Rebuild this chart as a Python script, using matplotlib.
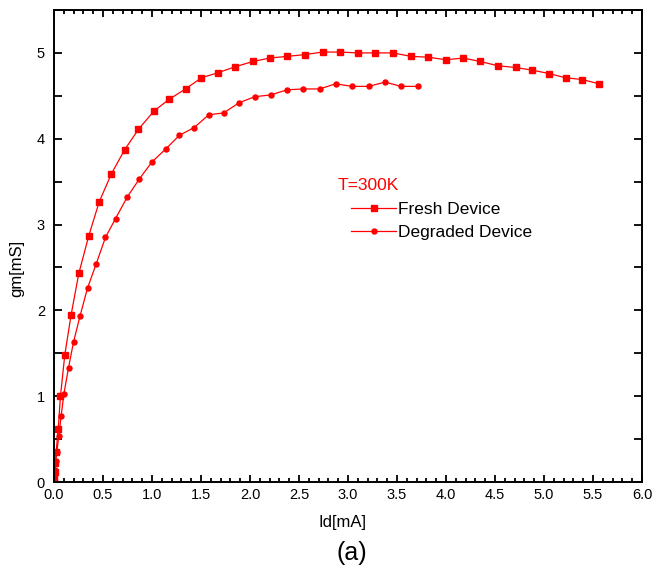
import matplotlib.pyplot as plt
from matplotlib.ticker import MultipleLocator

plt.rcParams['font.family'] = ['Liberation Sans', 'DejaVu Sans']

# Id [mA] and gm [mS]
fresh_id = [0.0, 0.004, 0.008, 0.014, 0.022, 0.043, 0.066, 0.11, 0.175, 0.253,
            0.355, 0.46, 0.585, 0.72, 0.862, 1.018, 1.175, 1.342, 1.505, 1.675,
            1.852, 2.03, 2.20, 2.38, 2.56, 2.74, 2.92, 3.10, 3.28, 3.46,
            3.64, 3.82, 4.00, 4.175, 4.35, 4.53, 4.71, 4.875, 5.05, 5.22,
            5.39, 5.56]
fresh_gm = [0.0, 0.05, 0.12, 0.22, 0.35, 0.62, 1.00, 1.48, 1.95, 2.43,
            2.87, 3.26, 3.59, 3.87, 4.11, 4.32, 4.46, 4.58, 4.71, 4.77,
            4.84, 4.90, 4.94, 4.96, 4.98, 5.01, 5.01, 5.00, 5.00, 5.00,
            4.96, 4.95, 4.92, 4.94, 4.90, 4.85, 4.83, 4.80, 4.76, 4.71,
            4.69, 4.64]

degr_id = [0.0, 0.004, 0.009, 0.017, 0.029, 0.049, 0.073, 0.10, 0.148, 0.199,
           0.267, 0.342, 0.43, 0.525, 0.628, 0.747, 0.87, 1.0, 1.14, 1.28,
           1.43, 1.58, 1.73, 1.89, 2.05, 2.21, 2.38, 2.54, 2.71, 2.875,
           3.04, 3.21, 3.38, 3.54, 3.71]
degr_gm = [0.0, 0.06, 0.14, 0.24, 0.35, 0.535, 0.77, 1.02, 1.33, 1.63,
           1.94, 2.26, 2.54, 2.85, 3.07, 3.32, 3.53, 3.73, 3.88, 4.04,
           4.13, 4.28, 4.30, 4.42, 4.49, 4.51, 4.57, 4.58, 4.58, 4.64,
           4.61, 4.61, 4.66, 4.61, 4.61]

W, H = 653, 576
fig = plt.figure(figsize=(W / 100, H / 100), dpi=100)
ax = fig.add_axes([54 / W, 1 - 482 / H, (642 - 54) / W, (482 - 10) / H])

ax.plot(fresh_id, fresh_gm, color='#ff0000', lw=0.9, marker='s', ms=4.2,
        label='Fresh Device')
ax.plot(degr_id, degr_gm, color='#ff0000', lw=0.9, marker='o', ms=3.6,
        label='Degraded Device')

ax.set_xlim(0, 6.0)
ax.set_ylim(0, 5.5)
ax.xaxis.set_major_locator(MultipleLocator(0.5))
ax.xaxis.set_minor_locator(MultipleLocator(0.1))
ax.yaxis.set_major_locator(MultipleLocator(1))
ax.yaxis.set_minor_locator(MultipleLocator(0.5))
ax.xaxis.set_major_formatter(lambda v, p: f'{v:.1f}')
ax.tick_params(which='both', direction='in', top=True, right=True,
               width=1.3, labelsize=10.5)
ax.tick_params(axis='x', which='major', length=5, pad=4.5)
ax.tick_params(axis='x', which='minor', length=3)
ax.tick_params(axis='y', which='both', length=6, pad=6.5)
for s in ax.spines.values():
    s.set_linewidth(1.4)

fig.text(338 / W, 1 - 185 / H, 'T=300K', color='#ff0000', fontsize=12.5,
         va='center', ha='left')
ax.legend(loc='upper left', bbox_to_anchor=(351 / W, 1 - 202 / H),
          bbox_transform=fig.transFigure, frameon=False, fontsize=12.5,
          handlelength=2.6, handletextpad=0.1, labelspacing=0.45,
          borderpad=0, borderaxespad=0)

fig.text(17 / W, 1 - 268 / H, 'gm[mS]', rotation=90, fontsize=12,
         ha='center', va='center')
fig.text(343 / W, 1 - 523 / H, 'Id[mA]', fontsize=12, ha='center', va='center')
fig.text(352 / W, 1 - 553 / H, '(a)', fontsize=18, ha='center', va='center')

fig.savefig('out.png', dpi=100)
